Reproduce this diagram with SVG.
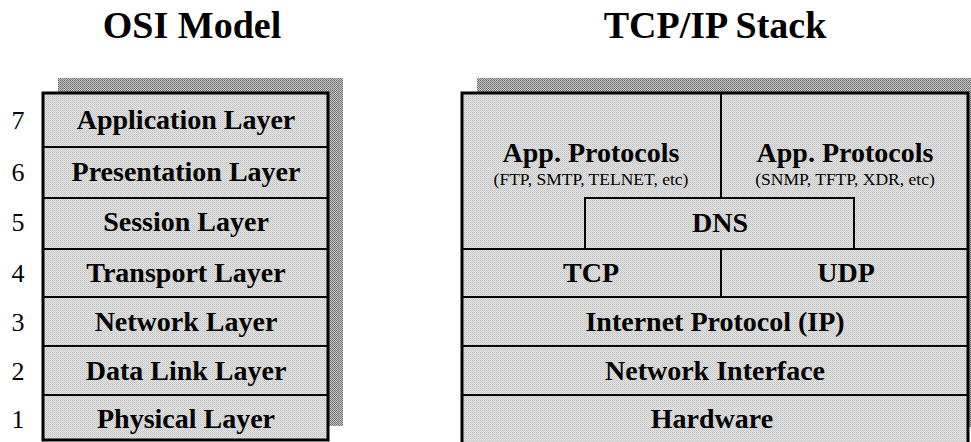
<svg xmlns="http://www.w3.org/2000/svg" width="971" height="442" viewBox="0 0 971 442">
  <defs>
    <!-- halftone-style fills -->
    <pattern id="cellFill" width="2" height="2" patternUnits="userSpaceOnUse">
      <rect width="2" height="2" fill="#e4e4e4"/>
      <rect x="0" y="0" width="1" height="1" fill="#c2c2c2"/>
      <rect x="1" y="1" width="1" height="1" fill="#cccccc"/>
    </pattern>
    <pattern id="shadowFill" width="2" height="2" patternUnits="userSpaceOnUse">
      <rect width="2" height="2" fill="#c8c8c8"/>
      <rect x="0" y="0" width="1" height="1" fill="#6a6a6a"/>
      <rect x="1" y="1" width="1" height="1" fill="#7a7a7a"/>
    </pattern>
    <style>
      .title { font-family: "Liberation Serif", "Times New Roman", serif; font-weight: bold; font-size: 38px; fill: #000; text-anchor: middle; }
      .label { font-family: "Liberation Serif", "Times New Roman", serif; font-weight: bold; font-size: 28px; fill: #000; text-anchor: middle; }
      .sub { font-family: "Liberation Serif", "Times New Roman", serif; font-size: 17.5px; fill: #000; text-anchor: middle; }
      .num { font-family: "Liberation Serif", "Times New Roman", serif; font-size: 26px; fill: #000; text-anchor: middle; }
      .cell { fill: url(#cellFill); stroke: #000; stroke-width: 2; }
      .shadow { fill: url(#shadowFill); }
      .frame { fill: none; stroke: #000; stroke-width: 3; }
    </style>
  </defs>

  <rect width="971" height="442" fill="#ffffff"/>

  <!-- headings -->
  <text id="osi-title" class="title" x="192" y="38">OSI Model</text>
  <text id="tcpip-title" class="title" x="715" y="38">TCP/IP Stack</text>

  <!-- OSI model stack -->
  <g id="osi-model">
    <rect class="shadow" x="58" y="78" width="285" height="348"/>
    <g id="osi-7">
      <rect class="cell" x="43" y="93" width="285" height="54"/>
      <text class="num" x="18" y="129">7</text>
      <text class="label" x="186" y="129">Application Layer</text>
    </g>
    <g id="osi-6">
      <rect class="cell" x="43" y="147" width="285" height="51"/>
      <text class="num" x="18" y="181">6</text>
      <text class="label" x="186" y="181">Presentation Layer</text>
    </g>
    <g id="osi-5">
      <rect class="cell" x="43" y="198" width="285" height="51"/>
      <text class="num" x="18" y="231">5</text>
      <text class="label" x="186" y="231">Session Layer</text>
    </g>
    <g id="osi-4">
      <rect class="cell" x="43" y="249" width="285" height="48"/>
      <text class="num" x="18" y="282">4</text>
      <text class="label" x="186" y="282">Transport Layer</text>
    </g>
    <g id="osi-3">
      <rect class="cell" x="43" y="297" width="285" height="49"/>
      <text class="num" x="18" y="331">3</text>
      <text class="label" x="186" y="331">Network Layer</text>
    </g>
    <g id="osi-2">
      <rect class="cell" x="43" y="346" width="285" height="49"/>
      <text class="num" x="18" y="380">2</text>
      <text class="label" x="186" y="380">Data Link Layer</text>
    </g>
    <g id="osi-1">
      <rect class="cell" x="43" y="395" width="285" height="45"/>
      <text class="num" x="18" y="428">1</text>
      <text class="label" x="186" y="428">Physical Layer</text>
    </g>
    <rect class="frame" x="43" y="93" width="285" height="347"/>
  </g>

  <!-- TCP/IP stack -->
  <g id="tcpip-stack">
    <rect class="shadow" x="477" y="78" width="510" height="349"/>
    <g id="app-protocols-tcp">
      <rect class="cell" x="462" y="93" width="259" height="156"/>
      <text class="label" x="591" y="162">App. Protocols</text>
      <text class="sub" x="591" y="185">(FTP, SMTP, TELNET, etc)</text>
    </g>
    <g id="app-protocols-udp">
      <rect class="cell" x="721" y="93" width="247" height="156"/>
      <text class="label" x="845" y="162">App. Protocols</text>
      <text class="sub" x="845" y="185">(SNMP, TFTP, XDR, etc)</text>
    </g>
    <g id="dns">
      <rect class="cell" x="585" y="198" width="269" height="51"/>
      <text class="label" x="720" y="232">DNS</text>
    </g>
    <g id="tcp">
      <rect class="cell" x="462" y="249" width="259" height="48"/>
      <text class="label" x="591" y="282">TCP</text>
    </g>
    <g id="udp">
      <rect class="cell" x="721" y="249" width="247" height="48"/>
      <text class="label" x="846" y="282">UDP</text>
    </g>
    <g id="ip">
      <rect class="cell" x="462" y="297" width="506" height="49"/>
      <text class="label" x="715" y="331">Internet Protocol (IP)</text>
    </g>
    <g id="network-interface">
      <rect class="cell" x="462" y="346" width="506" height="49"/>
      <text class="label" x="715" y="380">Network Interface</text>
    </g>
    <g id="hardware">
      <rect class="cell" x="462" y="395" width="506" height="50"/>
      <text class="label" x="712" y="428">Hardware</text>
    </g>
    <rect class="frame" x="462" y="93" width="506" height="352"/>
  </g>
</svg>
